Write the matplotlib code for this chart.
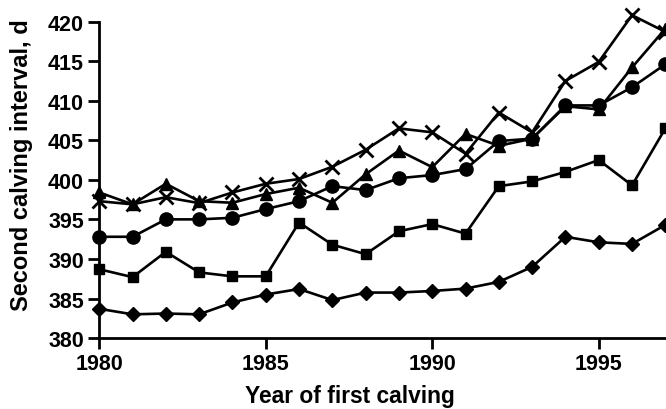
import matplotlib
matplotlib.use('Agg')
import matplotlib.pyplot as plt

years = list(range(1980, 1998))

diamond = [383.7, 383.0, 383.1, 383.0, 384.5, 385.5, 386.2, 384.8, 385.75, 385.75,
           385.95, 386.25, 387.1, 389.0, 392.8, 392.1, 391.9, 394.3]
square = [388.7, 387.7, 390.9, 388.3, 387.8, 387.8, 394.6, 391.8, 390.6, 393.5,
          394.4, 393.2, 399.2, 399.8, 401.0, 402.5, 399.3, 406.5]
circle = [392.8, 392.8, 395.0, 395.0, 395.2, 396.3, 397.3, 399.2, 398.7, 400.2,
          400.6, 401.35, 404.9, 405.2, 409.4, 409.4, 411.7, 414.6]
triangle = [398.4, 396.9, 399.5, 397.3, 397.1, 398.2, 399.0, 397.1, 400.7, 403.7,
            401.6, 405.8, 404.3, 405.2, 409.3, 408.9, 414.2, 419.1]
cross = [397.3, 396.9, 397.8, 397.05, 398.4, 399.5, 400.1, 401.65, 403.8, 406.5,
         406.0, 403.3, 408.5, 406.0, 412.5, 414.9, 420.8, 418.7]

plt.rcParams['font.family'] = ['Liberation Sans', 'DejaVu Sans']
plt.rcParams['font.weight'] = 'bold'

fig = plt.figure(figsize=(6.66, 4.10), dpi=100)
ax = fig.add_axes([0.149, 0.173, 0.850, 0.772])

lw = 1.9
ax.plot(years, diamond, color='black', lw=lw, marker='D', ms=7.5, clip_on=False)
ax.plot(years, square, color='black', lw=lw, marker='s', ms=6.5, clip_on=False)
ax.plot(years, circle, color='black', lw=lw, marker='o', ms=9.5, clip_on=False)
ax.plot(years, triangle, color='black', lw=lw, marker='^', ms=8, clip_on=False)
ax.plot(years, cross, color='black', lw=lw, marker='x', ms=10, mew=2, clip_on=False)

ax.set_xlim(1980, 1997)
ax.set_ylim(380, 420)
ax.set_xticks([1980, 1985, 1990, 1995])
ax.set_yticks(range(380, 421, 5))

for s in ['top', 'right']:
    ax.spines[s].set_visible(False)
for s in ['left', 'bottom']:
    ax.spines[s].set_linewidth(2)
ax.tick_params(direction='out', length=8, width=2, labelsize=15.5, pad=3)

# axis titles placed by hand (the x title is left of centre in the original)
fig.text(22 / 666, 1 - 165 / 410, 'Second calving interval, d', rotation=90,
         ha='center', va='center', fontsize=17, fontweight='bold')
fig.text(350 / 666, 0.004, 'Year of first calving', ha='center', va='bottom',
         fontsize=16.4, fontweight='bold')

fig.savefig('out.png', dpi=100)
